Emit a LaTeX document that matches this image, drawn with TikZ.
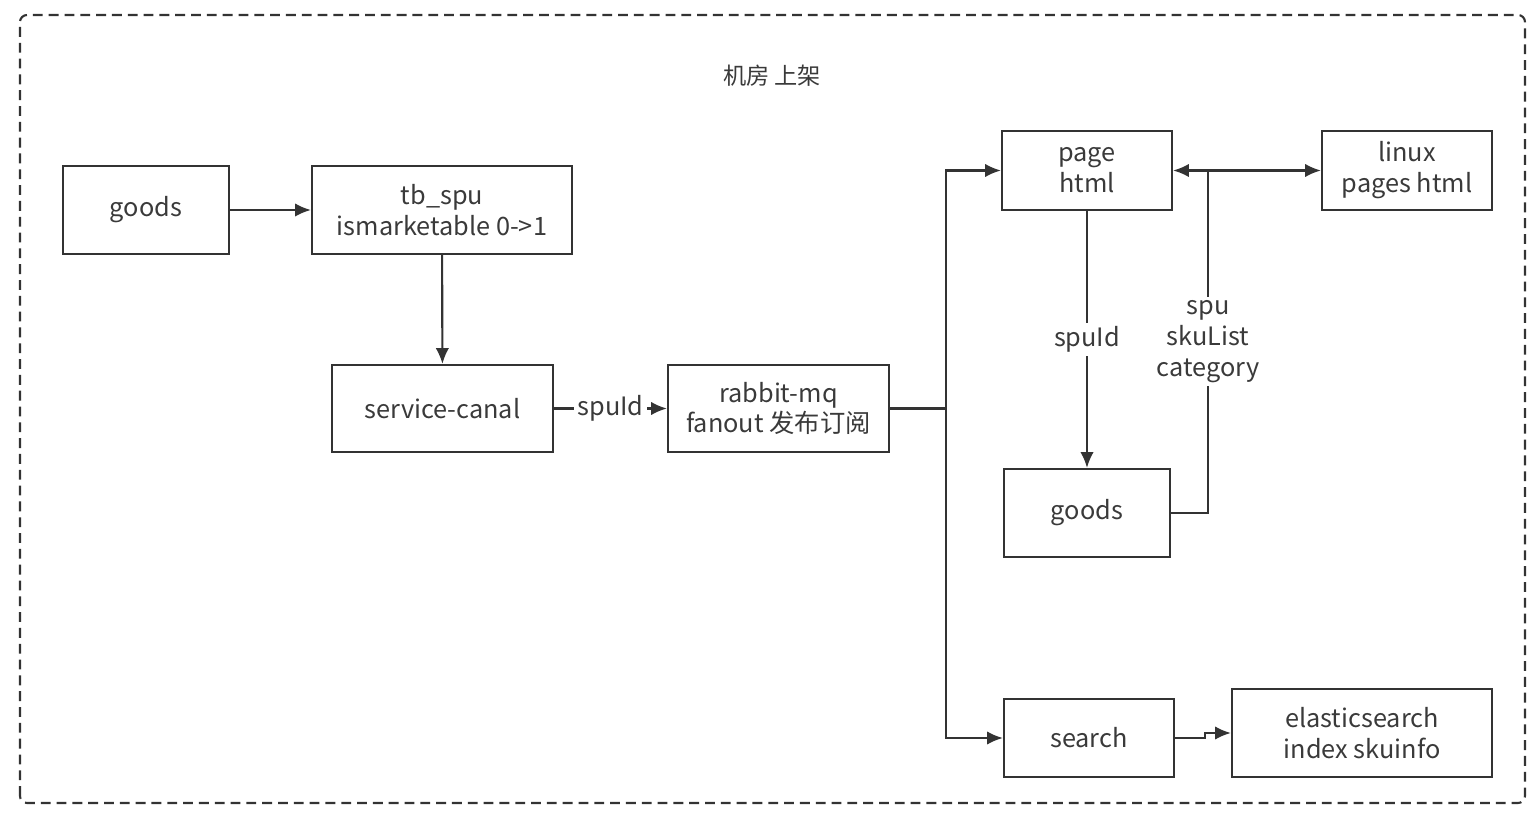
\documentclass[tikz,border=0pt]{standalone}
\usepackage{fontspec}
\setmainfont{Noto Sans CJK SC}
\usepackage{xcolor}
\usetikzlibrary{arrows.meta}
\definecolor{linegray}{HTML}{333333}
\definecolor{textgray}{HTML}{3A3A3A}

\begin{document}
\begin{tikzpicture}[
    box/.style={draw=linegray, line width=0.6pt, align=center, inner sep=0pt,
                font=\fontsize{7.2}{8.8}\selectfont, text=textgray},
    conn/.style={draw=linegray, line width=0.6pt},
    arr/.style={conn, -{Latex[length=4.5pt,width=3.8pt]}},
    lbl/.style={fill=white, inner sep=1pt, align=center,
                font=\fontsize{7.2}{8.8}\selectfont, text=textgray}
]
            \useasboundingbox (0,0) rectangle (15.36,8.14);
            \draw [linegray, line width=0.6pt, dashed, dash pattern=on 2.8pt off 1.7pt, rounded corners=2pt]
                (0.20,0.11) rectangle (15.25,7.99);
            \node [text=textgray, font=\fontsize{6.6}{7}\selectfont] (title) at (7.72,7.38) {机房 上架};
            \node [box, minimum width=1.66cm, minimum height=0.88cm] (goodsA) at (1.46,6.04) {goods};
            \node [box, minimum width=2.60cm, minimum height=0.88cm] (tbspu) at (4.42,6.04) {tb\_spu\\ismarketable 0->1};
            \node [box, minimum width=2.21cm, minimum height=0.87cm] (canal) at (4.425,4.055) {service-canal};
            \node [box, minimum width=2.21cm, minimum height=0.87cm] (rabbit) at (7.785,4.055) {rabbit-mq\\fanout 发布订阅};
            \node [box, minimum width=1.70cm, minimum height=0.79cm] (page) at (10.87,6.435) {page\\html};
            \node [box, minimum width=1.70cm, minimum height=0.79cm] (linux) at (14.07,6.435) {linux\\pages html};
            \node [box, minimum width=1.66cm, minimum height=0.88cm] (goodsB) at (10.87,3.01) {goods};
            \node [box, minimum width=1.70cm, minimum height=0.78cm] (search) at (10.89,0.76) {search};
            \node [box, minimum width=2.60cm, minimum height=0.88cm] (elastic) at (13.62,0.81) {elasticsearch\\index skuinfo};
            \coordinate (fork) at (9.46,4.055);
            \coordinate (join) at (12.08,6.435);
            \draw [arr] (goodsA) -- (tbspu);
            \draw [arr] (tbspu) -- (canal);
            \draw [arr] (canal) -- node [lbl, pos=0.5]{spuId} (rabbit);
            \draw [conn] (rabbit.east) -- (fork);
            \draw [arr] (fork) |- (page.west);
            \draw [arr] (fork) |- (search.west);
            \draw [arr] (page) -- node [lbl, pos=0.5]{spuId} (goodsB);
            \draw [conn] (goodsB.east) -| node [lbl, pos=0.75]{spu\\skuList\\category} (join);
            \draw [arr] (join) -- (page.east);
            \draw [arr] (join) -- (linux.west);
            \draw [arr] (search.east) -- ++(0.30,0) |- (elastic.west);
        \end{tikzpicture}
\end{document}
